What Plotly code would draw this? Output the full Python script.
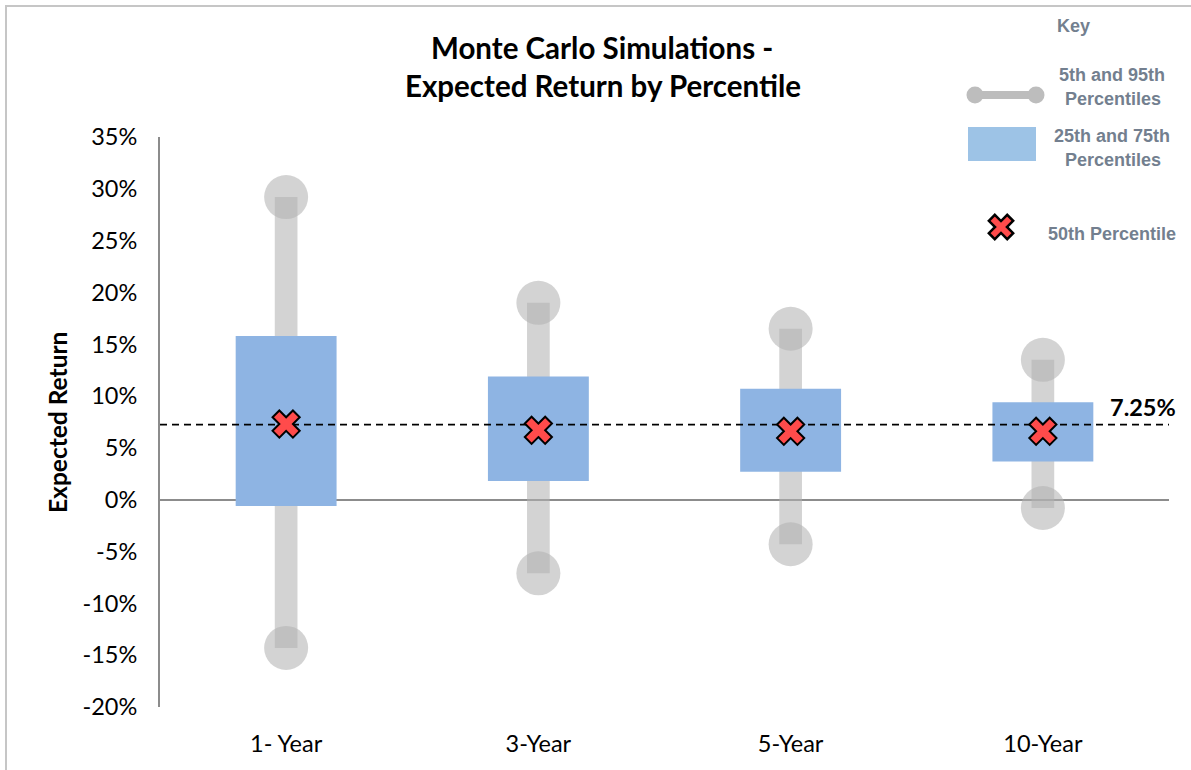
import plotly.graph_objects as go

categories = ["1- Year", "3-Year", "5-Year", "10-Year"]
p5 = [-14.3, -7.1, -4.3, -0.8]
p25 = [-0.6, 1.8, 2.7, 3.7]
p50 = [7.3, 6.7, 6.6, 6.6]
p75 = [15.8, 11.9, 10.7, 9.4]
p95 = [29.2, 19.0, 16.5, 13.5]
expected_return = 7.25
y_ticks = [-20, -15, -10, -5, 0, 5, 10, 15, 20, 25, 30, 35]
y_tick_labels = [f"{v}%" for v in y_ticks]

W, H = 1191, 770
L, R, T, B = 160, 22, 137, 63
PW, PH = W - L - R, H - T - B


def px(x):
    return (x - L) / PW


def py(y):
    return (H - B - y) / PH


idx = list(range(len(categories)))
GRAY = "rgba(178,178,178,0.57)"
BLUE = "#8eb4e3"
KEYTXT = "#737f8f"

fig = go.Figure()
fig.add_trace(go.Bar(x=idx, base=p5, y=[b - a for a, b in zip(p5, p95)], width=0.09,
                     marker=dict(color=GRAY, line=dict(width=0)), hoverinfo="skip"))
fig.add_trace(go.Bar(x=idx, base=p25, y=[b - a for a, b in zip(p25, p75)], width=0.4,
                     marker=dict(color=BLUE, line=dict(width=0)), hoverinfo="skip"))
fig.add_trace(go.Scatter(x=idx + idx, y=p5 + p95, mode="markers",
                         marker=dict(size=44, color=GRAY, line=dict(width=0))))
fig.add_trace(go.Scatter(x=[-0.5, len(categories) - 0.5], y=[expected_return] * 2, mode="lines",
                         line=dict(color="black", width=1.6, dash="7px,5px")))
fig.add_trace(go.Scatter(x=idx, y=p50, mode="markers",
                         marker=dict(symbol="x", size=24, color="#ff4b4b",
                                     line=dict(color="black", width=2))))

shapes = []
# outer frame (top & left)
shapes.append(dict(type="line", xref="paper", yref="paper", x0=px(5), x1=px(W + 5), y0=py(6), y1=py(6),
                   line=dict(color="#c6c6c6", width=2)))
shapes.append(dict(type="line", xref="paper", yref="paper", x0=px(6), x1=px(6), y0=py(5), y1=py(H + 5),
                   line=dict(color="#c6c6c6", width=2)))
# key: whisker
shapes.append(dict(type="line", xref="paper", yref="paper", x0=px(972), x1=px(1038), y0=py(95), y1=py(95),
                   line=dict(color="#bdbdbd", width=8)))
for cx in (975, 1036):
    shapes.append(dict(type="circle", xref="paper", yref="paper", x0=px(cx - 8.5), x1=px(cx + 8.5),
                       y0=py(95 - 8.5), y1=py(95 + 8.5), fillcolor="#bdbdbd", line=dict(width=0)))
# key: box
shapes.append(dict(type="rect", xref="paper", yref="paper", x0=px(968), x1=px(1036), y0=py(127), y1=py(161),
                   fillcolor="#9dc3e6", line=dict(width=0)))
# key: X mark
a, b = 4.2, 13.0
pts = [(-a, b), (a, b), (a, a), (b, a), (b, -a), (a, -a), (a, -b), (-a, -b), (-a, -a), (-b, -a), (-b, a), (-a, a)]
r2 = 2 ** 0.5
rot = [((x - y) / r2, (x + y) / r2) for x, y in pts]
path = "M " + " L ".join(f"{x:.2f},{y:.2f}" for x, y in rot) + " Z"
shapes.append(dict(type="path", xref="paper", yref="paper", xsizemode="pixel", ysizemode="pixel",
                   xanchor=px(1001), yanchor=py(227), path=path, fillcolor="#ff4b4b",
                   line=dict(color="black", width=2.5)))

annotations = []


def ann(text, x, y, size, color="black", family="Lato", bold=True, angle=0):
    annotations.append(dict(text=f"<b>{text}</b>" if bold else text, xref="paper", yref="paper",
                            x=px(x), y=py(y), xanchor="center", yanchor="middle", showarrow=False,
                            textangle=angle, font=dict(size=size, color=color, family=family)))


ann("Monte Carlo Simulations -", 602, 48, 29.5)
ann("Expected Return by Percentile", 603, 86, 29.5)
ann("Expected Return", 57, 423, 24.5, angle=-90)
ann(f"{expected_return:.2f}%", 1143, 407, 23.5)
ann("Key", 1073, 26, 18, KEYTXT, "Liberation Sans")
ann("5th and 95th", 1112, 75, 18, KEYTXT, "Liberation Sans")
ann("Percentiles", 1113, 99, 18, KEYTXT, "Liberation Sans")
ann("25th and 75th", 1112, 136, 18, KEYTXT, "Liberation Sans")
ann("Percentiles", 1113, 160, 18, KEYTXT, "Liberation Sans")
ann("50th Percentile", 1112, 234, 18, KEYTXT, "Liberation Sans")

fig.update_layout(
    width=W, height=H, margin=dict(l=L, r=R, t=T, b=B, autoexpand=False),
    paper_bgcolor="white", plot_bgcolor="white", showlegend=False, barmode="overlay",
    font=dict(family="Lato", size=23.5, color="black"),
    shapes=shapes, annotations=annotations,
    xaxis=dict(range=[-0.5, len(categories) - 0.5], tickvals=idx, ticktext=categories,
               showgrid=False, zeroline=False, showline=False, ticks="", ticklabelstandoff=20,
               fixedrange=True),
    yaxis=dict(range=[y_ticks[0], y_ticks[-1]], tickvals=y_ticks, ticktext=y_tick_labels,
               showgrid=False, zeroline=True, zerolinecolor="#8c8c8c", zerolinewidth=2,
               showline=True, linecolor="#8c8c8c", linewidth=2, ticks="", ticklabelstandoff=16,
               fixedrange=True),
)

fig.write_html("out.html", config={"displayModeBar": False},
               post_script="document.body.style.margin='0';document.body.style.overflow='hidden';")
